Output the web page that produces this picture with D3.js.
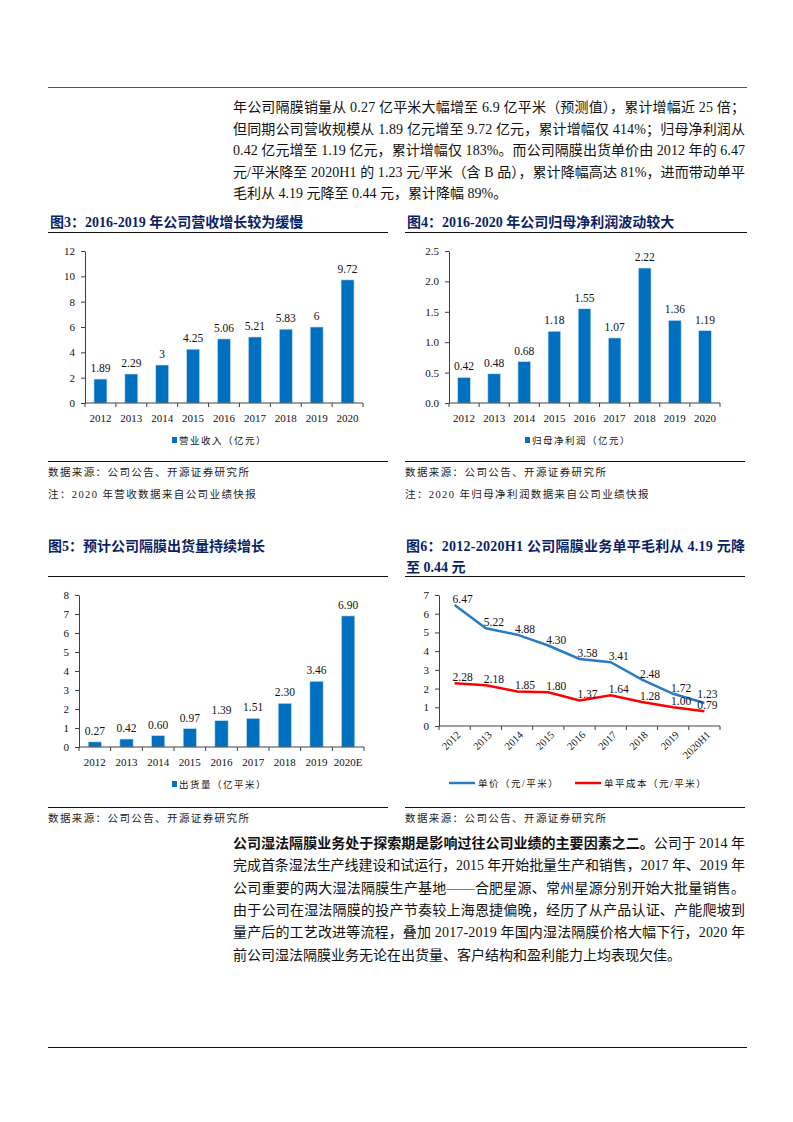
<!DOCTYPE html>
<html>
<head>
<meta charset="utf-8">
<script src="https://cdn.jsdelivr.net/npm/d3@7"></script>
<style>
  body { margin: 0; background: #fff; }
  svg text { font-family: "Liberation Serif", "Noto Sans CJK SC", serif; }
</style>
</head>
<body>
<script>
// ---- datos ----
const years = ["2012", "2013", "2014", "2015", "2016", "2017", "2018", "2019", "2020"];
const revenue = [1.89, 2.29, 3, 4.25, 5.06, 5.21, 5.83, 6, 9.72];
const netProfit = [0.42, 0.48, 0.68, 1.18, 1.55, 1.07, 2.22, 1.36, 1.19];
const shipYears = ["2012", "2013", "2014", "2015", "2016", "2017", "2018", "2019", "2020E"];
const shipment = [0.27, 0.42, 0.60, 0.97, 1.39, 1.51, 2.30, 3.46, 6.90];
const priceYears = ["2012", "2013", "2014", "2015", "2016", "2017", "2018", "2019", "2020H1"];
const unitPrice = [6.47, 5.22, 4.88, 4.30, 3.58, 3.41, 2.48, 1.72, 1.23];
const unitCost = [2.28, 2.18, 1.85, 1.80, 1.37, 1.64, 1.28, 1.00, 0.79];

const topLines = [
  "年公司隔膜销量从 0.27 亿平米大幅增至 6.9 亿平米（预测值），累计增幅近 25 倍；",
  "但同期公司营收规模从 1.89 亿元增至 9.72 亿元，累计增幅仅 414%；归母净利润从",
  "0.42 亿元增至 1.19 亿元，累计增幅仅 183%。而公司隔膜出货单价由 2012 年的 6.47",
  "元/平米降至 2020H1 的 1.23 元/平米（含 B 品），累计降幅高达 81%，进而带动单平",
  "毛利从 4.19 元降至 0.44 元，累计降幅 89%。"
];
const bottomBold = "公司湿法隔膜业务处于探索期是影响过往公司业绩的主要因素之二。";
const bottomLines = [
  "公司于 2014 年",
  "完成首条湿法生产线建设和试运行，2015 年开始批量生产和销售，2017 年、2019 年",
  "公司重要的两大湿法隔膜生产基地——合肥星源、常州星源分别开始大批量销售。",
  "由于公司在湿法隔膜的投产节奏较上海恩捷偏晚，经历了从产品认证、产能爬坡到",
  "量产后的工艺改进等流程，叠加 2017-2019 年国内湿法隔膜价格大幅下行，2020 年",
  "前公司湿法隔膜业务无论在出货量、客户结构和盈利能力上均表现欠佳。"
];

const width = 793;
const height = 1122;
const navy = "#0b1f66";
const barColor = "#0070c0";
const axisColor = "#404040";

const svg = d3.select("body").append("svg")
  .attr("width", width)
  .attr("height", height);

// Lineas de pagina
svg.append("line").attr("x1", 48).attr("x2", 747).attr("y1", 87.5).attr("y2", 87.5)
  .attr("stroke", "#555").attr("stroke-width", 1);
svg.append("line").attr("x1", 48).attr("x2", 747).attr("y1", 1047.5).attr("y2", 1047.5)
  .attr("stroke", "#111").attr("stroke-width", 1);

// Parrafo superior
topLines.forEach((t, i) => {
  const txt = svg.append("text")
    .attr("x", 233)
    .attr("y", 112 + i * 21.5)
    .style("font-size", "14px")
    .attr("fill", "#111")
    .text(t);
  if (i < topLines.length - 1) txt.attr("textLength", 512).attr("lengthAdjust", "spacing");
});

// Parrafo inferior
bottomLines.forEach((t, i) => {
  const txt = svg.append("text")
    .attr("x", 233)
    .attr("y", 848 + i * 22.3)
    .style("font-size", "14px")
    .attr("fill", "#111");
  if (i === 0) {
    txt.append("tspan").style("font-weight", "bold").text(bottomBold);
    txt.append("tspan").text(t);
  } else {
    txt.text(t);
  }
  if (i < bottomLines.length - 1) txt.attr("textLength", 512).attr("lengthAdjust", "spacing");
});

// Titulos de figuras
function figTitle(x, y, lines, x2) {
  lines.forEach((l, i) => {
    const t = svg.append("text")
      .attr("x", x)
      .attr("y", y + i * 20.5)
      .style("font-size", "14px")
      .style("font-weight", "bold")
      .attr("fill", navy)
      .text(l);
    if (lines.length > 1 && i < lines.length - 1) t.attr("textLength", x2 - x).attr("lengthAdjust", "spacing");
  });
}

function hline(x1, x2, y) {
  svg.append("line").attr("x1", x1).attr("x2", x2).attr("y1", y).attr("y2", y)
    .attr("stroke", "#111").attr("stroke-width", 1.2);
}

function footnote(x, y, t) {
  svg.append("text")
    .attr("x", x).attr("y", y)
    .style("font-size", "10.5px")
    .style("letter-spacing", "1.4px")
    .attr("fill", "#222")
    .text(t);
}

figTitle(50, 227, ["图3：2016-2019 年公司营收增长较为缓慢"]);
figTitle(407, 227, ["图4：2016-2020 年公司归母净利润波动较大"]);
hline(48, 388, 232.5);
hline(405, 747, 232.5);

hline(48, 388, 461.5);
hline(405, 745, 461.5);
footnote(48, 476, "数据来源：公司公告、开源证券研究所");
footnote(48, 498, "注：2020 年营收数据来自公司业绩快报");
footnote(405, 476, "数据来源：公司公告、开源证券研究所");
footnote(405, 498, "注：2020 年归母净利润数据来自公司业绩快报");

figTitle(48, 551, ["图5：预计公司隔膜出货量持续增长"]);
figTitle(406, 551, ["图6：2012-2020H1 公司隔膜业务单平毛利从 4.19 元降", "至 0.44 元"], 745);
hline(48, 388, 576.5);
hline(405, 745, 576.5);

hline(48, 388, 807.5);
hline(405, 745, 807.5);
footnote(48, 822, "数据来源：公司公告、开源证券研究所");
footnote(405, 822, "数据来源：公司公告、开源证券研究所");

// ---- ejes comunes ----
function drawAxes(g, y, x0, x1, y0, ticks, fmt, n) {
  g.append("g")
    .attr("transform", `translate(${x0},0)`)
    .call(d3.axisLeft(y).tickValues(ticks).tickFormat(fmt).tickSize(4).tickSizeOuter(0).tickPadding(6))
    .call(a => a.select(".domain").attr("stroke", axisColor))
    .call(a => a.selectAll(".tick line").attr("stroke", axisColor))
    .call(a => a.selectAll(".tick text")
      .style("font-size", "11px")
      .style("font-family", "Liberation Serif, serif")
      .attr("fill", "#111"));

  g.append("line")
    .attr("x1", x0).attr("x2", x1).attr("y1", y0).attr("y2", y0)
    .attr("stroke", axisColor);
  const stepW = (x1 - x0) / n;
  g.selectAll(".xtick").data(d3.range(n + 1)).join("line")
    .attr("x1", i => x0 + i * stepW).attr("x2", i => x0 + i * stepW)
    .attr("y1", y0).attr("y2", y0 + 4)
    .attr("stroke", axisColor);
}

function barChart(o) {
  const g = svg.append("g");
  const x = d3.scaleBand().domain(o.cats).range([o.x0, o.x1]).paddingInner(0.58).paddingOuter(0.29);
  const y = d3.scaleLinear().domain([0, o.max]).range([o.y0, o.y1]);
  const ticks = d3.range(0, o.max + o.step / 2, o.step);

  g.selectAll("rect.bar").data(o.values).join("rect")
    .attr("class", "bar")
    .attr("x", (d, i) => x(o.cats[i]))
    .attr("width", x.bandwidth())
    .attr("y", d => y(d))
    .attr("height", d => o.y0 - y(d))
    .attr("fill", barColor)
    .attr("stroke", "#cfe2f3")
    .attr("stroke-width", 0.6);

  drawAxes(g, y, o.x0, o.x1, o.y0, ticks, o.tickFmt, o.cats.length);

  g.selectAll("text.xl").data(o.cats).join("text")
    .attr("class", "xl")
    .attr("x", d => x(d) + x.bandwidth() / 2)
    .attr("y", o.y0 + 19)
    .attr("text-anchor", "middle")
    .style("font-size", "11px")
    .attr("fill", "#111")
    .text(d => d);

  g.selectAll("text.vl").data(o.values).join("text")
    .attr("class", "vl")
    .attr("x", (d, i) => x(o.cats[i]) + x.bandwidth() / 2)
    .attr("y", d => y(d) - 7)
    .attr("text-anchor", "middle")
    .style("font-size", "11.5px")
    .attr("fill", "#111")
    .text(o.labelFmt);

  g.append("rect")
    .attr("x", o.legendX).attr("y", o.legendY - 3)
    .attr("width", 5).attr("height", 6)
    .attr("fill", barColor);
  g.append("text")
    .attr("x", o.legendX + 7).attr("y", o.legendY + 3.5)
    .style("font-size", "9.5px")
    .style("letter-spacing", "1.5px")
    .attr("fill", "#111")
    .text(o.legendText);
}

barChart({
  x0: 85, x1: 363, y0: 403, y1: 251,
  cats: years, values: revenue, max: 12, step: 2,
  tickFmt: d3.format("d"), labelFmt: d => String(d),
  legendText: "营业收入（亿元）", legendX: 172, legendY: 440
});

barChart({
  x0: 449, x1: 720, y0: 403, y1: 251,
  cats: years, values: netProfit, max: 2.5, step: 0.5,
  tickFmt: d3.format(".1f"), labelFmt: d3.format(".2f"),
  legendText: "归母净利润（亿元）", legendX: 525, legendY: 440
});

barChart({
  x0: 79, x1: 364, y0: 747, y1: 595,
  cats: shipYears, values: shipment, max: 8, step: 1,
  tickFmt: d3.format("d"), labelFmt: d3.format(".2f"),
  legendText: "出货量（亿平米）", legendX: 172, legendY: 784
});

// ---- Figura 6: lineas ----
{
  const x0 = 439, x1 = 720, y0 = 726, y1 = 595;
  const g = svg.append("g");
  const x = d3.scalePoint().domain(priceYears).range([x0, x1]).padding(0.5);
  const y = d3.scaleLinear().domain([0, 7]).range([y0, y1]);

  drawAxes(g, y, x0, x1, y0, d3.range(0, 8), d3.format("d"), priceYears.length);

  const line = d3.line().x((d, i) => x(priceYears[i])).y(d => y(d));
  const series = [
    {values: unitPrice, color: "#2a7bc6", name: "单价（元/平米）"},
    {values: unitCost, color: "#ff0000", name: "单平成本（元/平米）"}
  ];

  series.forEach(s => {
    g.append("path")
      .datum(s.values)
      .attr("d", line)
      .attr("fill", "none")
      .attr("stroke", s.color)
      .attr("stroke-width", 2.5);
  });

  // etiquetas de datos
  const last = priceYears.length - 1;
  series.forEach((s, si) => {
    g.selectAll(`text.dl${si}`).data(s.values).join("text")
      .attr("class", `dl${si}`)
      .attr("x", (d, i) => x(priceYears[i]) + (i === last ? 3 : 8))
      .attr("y", (d, i) => y(d) - (si === 0 && i === last ? 5 : 2))
      .attr("text-anchor", "middle")
      .style("font-size", "11.5px")
      .attr("fill", "#111")
      .text(d3.format(".2f"));
  });

  g.selectAll("text.xr").data(priceYears).join("text")
    .attr("class", "xr")
    .attr("transform", d => `translate(${x(d) + 4},${y0 + 7}) rotate(-45)`)
    .attr("text-anchor", "end")
    .attr("dy", "0.35em")
    .style("font-size", "10.5px")
    .attr("fill", "#111")
    .text(d => d);

  // leyenda
  const legendPos = [449, 575];
  series.forEach((s, i) => {
    g.append("line")
      .attr("x1", legendPos[i]).attr("x2", legendPos[i] + 26)
      .attr("y1", 783).attr("y2", 783)
      .attr("stroke", s.color).attr("stroke-width", 2.5);
    g.append("text")
      .attr("x", legendPos[i] + 29).attr("y", 786.5)
      .style("font-size", "9.5px")
      .style("letter-spacing", "1.5px")
      .attr("fill", "#111")
      .text(s.name);
  });
}
</script>
</body>
</html>
